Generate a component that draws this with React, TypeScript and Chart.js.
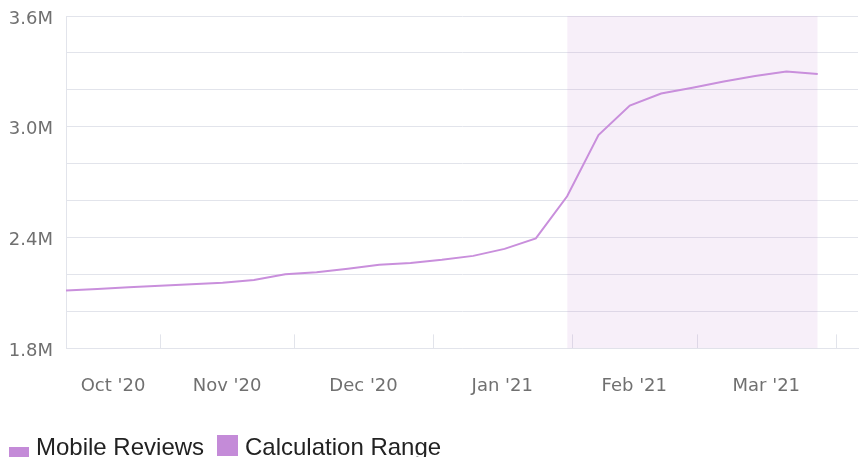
import React, { useEffect, useRef } from "react";
import { Chart, registerables } from "chart.js";

Chart.register(...registerables);

// ---- data ----
const weekDates = [
  "2020-10-11", "2020-10-18", "2020-10-25", "2020-11-01", "2020-11-08",
  "2020-11-15", "2020-11-22", "2020-11-29", "2020-12-06", "2020-12-13",
  "2020-12-20", "2020-12-27", "2021-01-03", "2021-01-10", "2021-01-17",
  "2021-01-24", "2021-01-31", "2021-02-07", "2021-02-14", "2021-02-21",
  "2021-02-28", "2021-03-07", "2021-03-14", "2021-03-21", "2021-03-28",
];
const mobileReviews = [
  2114000, 2122000, 2131000, 2139000, 2147000,
  2155000, 2171000, 2201000, 2212000, 2231000,
  2253000, 2263000, 2280000, 2301000, 2339000,
  2396000, 2624000, 2955000, 3115000, 3180000,
  3212000, 3245000, 3275000, 3299000, 3286000,
];
const calcRangeDates = ["2021-01-31", "2021-03-28"];
const axisStart = "2020-10-11";
const axisEnd = "2021-04-06";
const monthStarts = [
  "2020-10-01", "2020-11-01", "2020-12-01", "2021-01-01",
  "2021-02-01", "2021-03-01", "2021-04-01",
];
const monthLabels = ["Oct '20", "Nov '20", "Dec '20", "Jan '21", "Feb '21", "Mar '21"];
const yMin = 1800000;
const yMax = 3600000;
const yStep = 200000;

const toTime = (d: string) => {
  const [y, m, day] = d.split("-").map(Number);
  return Date.UTC(y, m - 1, day);
};

const GRID = "#e2e4eb";
const PURPLE = "#c98fdc";
const LEGEND_PURPLE = "#c48bd8";
const TICK_COLOR = "#707070";

const monthTickPlugin = {
  id: "monthTicks",
  beforeDatasetsDraw(chart: any) {
    const { ctx, chartArea, scales } = chart;
    const x = scales.x;
    ctx.save();
    ctx.strokeStyle = GRID;
    ctx.lineWidth = 1;
    monthStarts.forEach((d) => {
      const t = toTime(d);
      if (t <= x.min || t > x.max) return;
      const px = Math.round(x.getPixelForValue(t)) + 0.5;
      ctx.beginPath();
      ctx.moveTo(px, chartArea.bottom - 14);
      ctx.lineTo(px, chartArea.bottom);
      ctx.stroke();
    });
    ctx.restore();
  },
};

export default function App() {
  const ref = useRef<HTMLCanvasElement | null>(null);

  useEffect(() => {
    if (!ref.current) return;
    const minT = toTime(axisStart);
    const maxT = toTime(axisEnd);
    const labelPositions = monthLabels.map((_, i) => {
      const a = Math.max(toTime(monthStarts[i]), minT);
      const b = Math.min(toTime(monthStarts[i + 1]), maxT);
      return (a + b) / 2;
    });

    const chart = new Chart(ref.current, {
      type: "line",
      data: {
        datasets: [
          {
            label: "Mobile Reviews",
            data: weekDates.map((d, i) => ({ x: toTime(d), y: mobileReviews[i] })),
            borderColor: PURPLE,
            borderWidth: 2,
            pointRadius: 0,
            tension: 0,
            fill: false,
          },
          {
            label: "Calculation Range",
            data: calcRangeDates.map((d) => ({ x: toTime(d), y: yMax })),
            borderWidth: 0,
            borderColor: "rgba(0,0,0,0)",
            backgroundColor: "rgba(196,139,216,0.14)",
            pointRadius: 0,
            fill: "start",
          },
        ],
      },
      options: {
        animation: false,
        responsive: false,
        layout: { padding: { top: 16, right: 1, left: 0, bottom: 0 } },
        plugins: {
          legend: { display: false },
          tooltip: { enabled: false },
        },
        scales: {
          x: {
            type: "linear",
            min: minT,
            max: maxT,
            grid: { display: true, drawOnChartArea: false, drawTicks: false },
            border: { display: true, color: GRID, width: 1 },
            afterBuildTicks: (scale: any) => {
              scale.ticks = labelPositions.map((v) => ({ value: v }));
            },
            afterFit: (scale: any) => {
              scale.paddingLeft = 0;
              scale.paddingRight = 0;
            },
            ticks: {
              autoSkip: false,
              maxRotation: 0,
              padding: 27,
              color: TICK_COLOR,
              font: { family: "DejaVu Sans", size: 18 },
              callback: (_v: any, i: number) => monthLabels[i],
            },
          },
          y: {
            min: yMin,
            max: yMax,
            afterFit: (scale: any) => {
              scale.width = 66;
              scale.paddingTop = 0;
              scale.paddingBottom = 0;
            },
            grid: { color: GRID, drawTicks: false },
            border: { display: true, color: GRID },
            ticks: {
              stepSize: yStep,
              autoSkip: false,
              padding: 13,
              labelOffset: 3,
              color: TICK_COLOR,
              font: { family: "DejaVu Sans", size: 18 },
              callback: (v: any) => {
                const k = Math.round(Number(v) / 100000);
                return k % 6 === 0 ? (k / 10).toFixed(1) + "M" : "";
              },
            },
          },
        },
      },
      plugins: [monthTickPlugin],
    } as any);
    return () => chart.destroy();
  }, []);

  return (
    <div
      style={{
        position: "fixed",
        left: 0,
        top: 0,
        width: 859,
        height: 457,
        overflow: "hidden",
        background: "#ffffff",
      }}
    >
      <canvas ref={ref} width={859} height={424} style={{ display: "block", width: 859, height: 424 }} />
      <div
        style={{
          position: "absolute",
          left: 0,
          top: 0,
          width: 859,
          height: 457,
          fontFamily: "'Liberation Sans', Arial, sans-serif",
          fontSize: 24,
          color: "#222222",
        }}
      >
        <span style={{ position: "absolute", left: 9, top: 447, width: 20, height: 10, background: LEGEND_PURPLE }} />
        <span style={{ position: "absolute", left: 36, top: 435, lineHeight: "24px", whiteSpace: "nowrap" }}>
          Mobile Reviews
        </span>
        <span style={{ position: "absolute", left: 217, top: 435, width: 21, height: 21, background: LEGEND_PURPLE }} />
        <span style={{ position: "absolute", left: 245, top: 435, lineHeight: "24px", whiteSpace: "nowrap" }}>
          Calculation Range
        </span>
      </div>
    </div>
  );
}
